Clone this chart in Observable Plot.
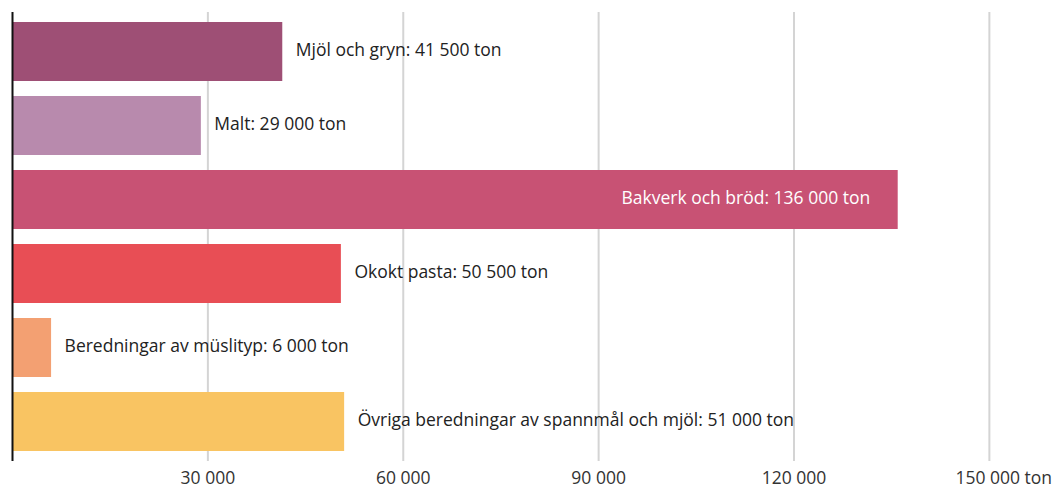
<!DOCTYPE html>
<html><head><meta charset="utf-8">
<script src="https://cdn.jsdelivr.net/npm/d3@7"></script>
<script src="https://cdn.jsdelivr.net/npm/@observablehq/plot@0.6"></script>
<style>body{margin:0;background:#fff;font-family:"Open Sans",sans-serif}</style>
</head><body><div id="chart"></div>
<script>
const categories = ["Mjöl och gryn","Malt","Bakverk och bröd","Okokt pasta","Beredningar av müslityp","Övriga beredningar av spannmål och mjöl"];
const values = [41500, 29000, 136000, 50500, 6000, 51000];
const colors = ["#9e4f75","#b88aad","#c85274","#e84e55","#f3a072","#f9c462"];
const tickValues = [30000, 60000, 90000, 120000, 150000];
const unit = "ton";

const loc = d3.formatLocale({decimal: ",", thousands: " ", grouping: [3], currency: ["", ""]});
const fmt = loc.format(",.0f");
const data = categories.map((c, i) => ({category: c, value: values[i], color: colors[i], label: `${c}: ${fmt(values[i])} ${unit}`}));
const tickData = tickValues.map((v, i) => ({v, label: i === tickValues.length - 1 ? `${fmt(v)} ${unit}` : fmt(v), last: i === tickValues.length - 1}));

const FS = 17.5;
const chart = Plot.plot({
  width: 1056, height: 488,
  marginTop: 12, marginBottom: 27, marginLeft: 12, marginRight: 2,
  style: {fontFamily: "'Open Sans', sans-serif", fontSize: FS + "px", color: "#222", background: "#fff"},
  x: {domain: [0, 160000], axis: null},
  y: {domain: categories, axis: null, paddingInner: 0.2, paddingOuter: 0.1},
  marks: [
    Plot.ruleX(tickValues, {stroke: "#d4d4d4", strokeWidth: 2}),
    Plot.barX(data, {x: "value", y: "category", fill: "color"}),
    Plot.ruleX([0], {stroke: "#111", strokeWidth: 2}),
    Plot.text(data.filter(d => d.value < 100000), {x: "value", y: "category", text: "label", textAnchor: "start", dx: 13, dy: -1.5, fill: "#222", fontSize: FS}),
    Plot.text(data.filter(d => d.value >= 100000), {x: "value", y: "category", text: "label", textAnchor: "end", dx: -28, dy: -1.5, fill: "#fff", fontSize: FS}),
    Plot.text(tickData.filter(d => !d.last), {x: "v", text: "label", frameAnchor: "bottom", lineAnchor: "top", dy: 10, fill: "#333", fontSize: FS, letterSpacing: "0.06em"}),
    Plot.text(tickData.filter(d => d.last), {x: "v", text: "label", frameAnchor: "bottom", lineAnchor: "top", dy: 10, dx: -34, textAnchor: "start", fill: "#333", fontSize: FS, letterSpacing: "0.03em"})
  ]
});
document.getElementById("chart").appendChild(chart);
</script>
</body></html>
